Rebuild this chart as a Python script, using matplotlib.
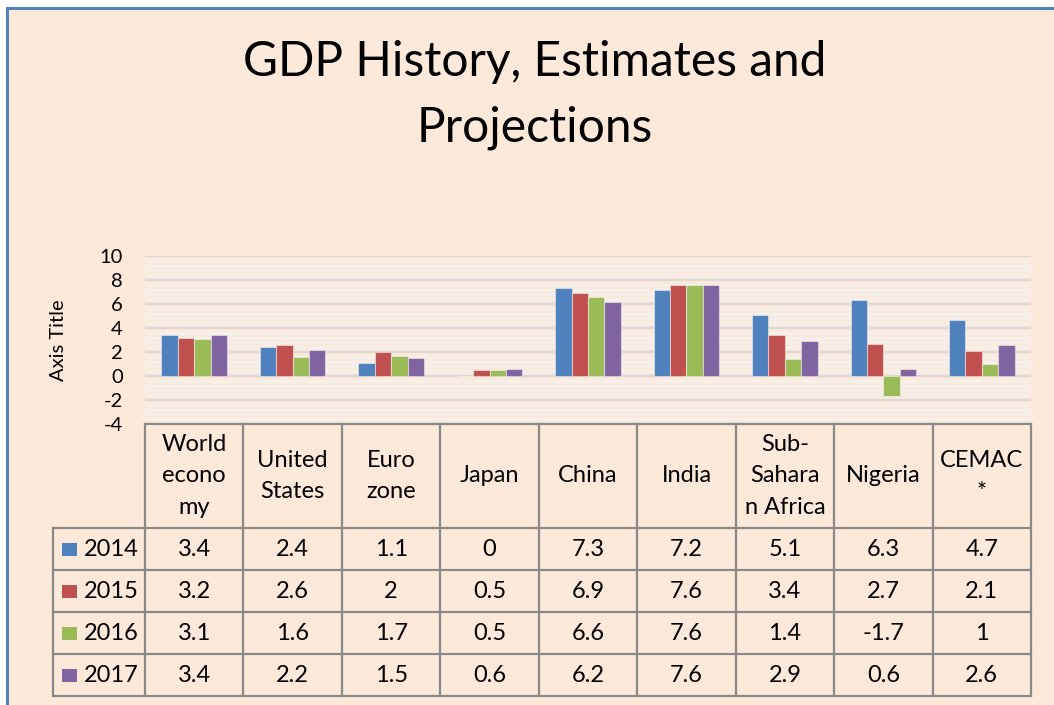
import matplotlib
matplotlib.use("Agg")
import matplotlib.pyplot as plt
from matplotlib.patches import Rectangle
from matplotlib.ticker import MultipleLocator
import numpy as np

# ---- data ----
categories = ["World\necono\nmy", "United\nStates", "Euro\nzone", "Japan", "China",
              "India", "Sub-\nSahara\nn Africa", "Nigeria", "CEMAC\n*"]
years = ["2014", "2015", "2016", "2017"]
v2014 = [3.4, 2.4, 1.1, 0, 7.3, 7.2, 5.1, 6.3, 4.7]
v2015 = [3.2, 2.6, 2, 0.5, 6.9, 7.6, 3.4, 2.7, 2.1]
v2016 = [3.1, 1.6, 1.7, 0.5, 6.6, 7.6, 1.4, -1.7, 1]
v2017 = [3.4, 2.2, 1.5, 0.6, 6.2, 7.6, 2.9, 0.6, 2.6]
series = [v2014, v2015, v2016, v2017]
colors = ["#4F81BD", "#C0504D", "#9BBB59", "#8064A2"]
yticks = list(range(-4, 11, 2))

plt.rcParams['font.family'] = ['Lato', 'DejaVu Sans']
plt.rcParams['axes.unicode_minus'] = False

W, H = 1054, 705
fig = plt.figure(figsize=(W / 100, H / 100), dpi=100)
fig.patch.set_facecolor("white")

bg = "#FDE9D9"
# chart area with blue border
fig.patches.append(Rectangle((7 / W, -0.1), 1.2, (H - 8) / H + 0.1, transform=fig.transFigure,
                             facecolor=bg, edgecolor="#4F81BD", linewidth=2.2, zorder=-10))

def fx(px):
    return px / W

def fy(py):
    return 1 - py / H

left_px, right_px = 145, 1031
top_px, bot_px = 256, 424
ax = fig.add_axes([fx(left_px), fy(bot_px), (right_px - left_px) / W, (bot_px - top_px) / H])
ax.set_facecolor("none")
n = len(categories)
x = np.arange(n) + 0.5
bw = 1 / 6
for k, (vals, c) in enumerate(zip(series, colors)):
    ax.bar(x + (k - 1.5) * bw, vals, width=bw, color=c, edgecolor=(1, 1, 1, 0.45),
           linewidth=0.8, zorder=3)
ax.set_xlim(0, n)
ax.set_ylim(-4, 10)
ax.set_yticks(yticks)
ax.yaxis.set_minor_locator(MultipleLocator(0.4))
ax.grid(which="minor", axis="y", color="#F3F1F0", linewidth=1.8, zorder=1)
ax.grid(which="major", axis="y", color="#D9D9D9", linewidth=1.6, zorder=2)
ax.set_axisbelow(True)
ax.set_xticks([])
for s in ax.spines.values():
    s.set_visible(False)
ax.tick_params(axis="y", which="both", length=0, pad=16, labelsize=14.5)
ax.tick_params(axis="y", which="minor", labelleft=False)

fig.text(fx(58), fy(340), "Axis Title", rotation=90, ha="center", va="center", fontsize=14.5)
fig.text(fx(535), fy(95), "GDP History, Estimates and\nProjections", ha="center", va="center",
         fontsize=34.5, linespacing=1.6)

# ---- data table ----
tbl_top, tbl_bot = 424, 696
tax = fig.add_axes([fx(left_px), fy(tbl_bot), (right_px - left_px) / W, (tbl_bot - tbl_top) / H])
tax.set_xlim(0, n)
tax.set_ylim(tbl_bot - tbl_top, 0)
tax.axis("off")
header_h = 104
row_h = (tbl_bot - tbl_top - header_h) / 4
leg_x = -(left_px - 53) / ((right_px - left_px) / n)
lc = "#898989"
lw = 1.6
kw = dict(color=lc, linewidth=lw, clip_on=False, solid_capstyle="projecting")
tax.plot([0, n], [0, 0], **kw)
for r in range(5):
    yy = header_h + r * row_h
    tax.plot([leg_x, n], [yy, yy], **kw)
for i in range(n + 1):
    tax.plot([i, i], [0, tbl_bot - tbl_top], **kw)
tax.plot([leg_x, leg_x], [header_h, tbl_bot - tbl_top], **kw)

fs = 17
for i, cat in enumerate(categories):
    tax.text(i + 0.5, header_h / 2, cat, ha="center", va="center", fontsize=fs,
             linespacing=1.6, clip_on=False)
unit = (right_px - left_px) / n
for r, (yr, vals, c) in enumerate(zip(years, series, colors)):
    yc = header_h + (r + 0.5) * row_h
    tax.add_patch(Rectangle((leg_x + 9 / unit, yc - 6.5), 15 / unit, 13, facecolor=c,
                            edgecolor="none", clip_on=False))
    tax.text(leg_x + 31 / unit, yc, yr, ha="left", va="center", fontsize=fs, clip_on=False)
    for i, v in enumerate(vals):
        tax.text(i + 0.5, yc, f"{v:g}", ha="center", va="center", fontsize=fs, clip_on=False)

fig.savefig("out.png", dpi=100, facecolor=fig.get_facecolor())
